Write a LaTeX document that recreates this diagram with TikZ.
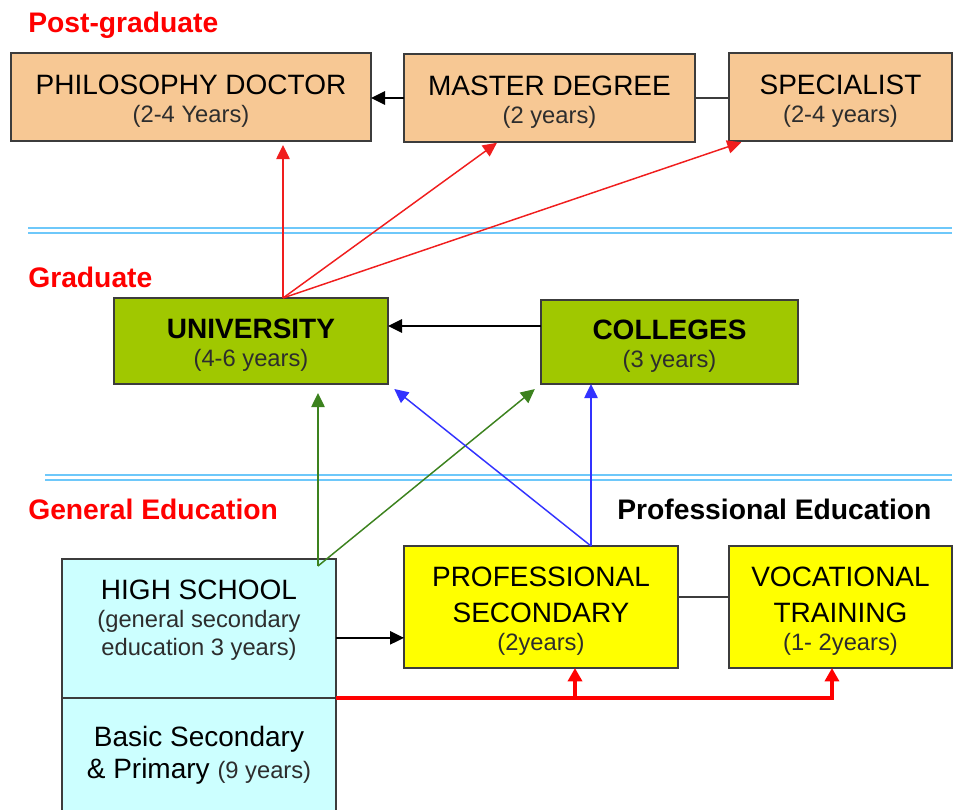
\documentclass[tikz,border=0pt]{standalone}
\usepackage{fontspec}
\setmainfont{Liberation Sans}
\usetikzlibrary{arrows.meta}

\definecolor{peach}{RGB}{247,200,148}
\definecolor{leaf}{RGB}{160,200,0}
\definecolor{lemon}{RGB}{255,255,0}
\definecolor{ice}{RGB}{204,255,255}
\definecolor{edgegray}{RGB}{60,60,60}
\definecolor{subgray}{RGB}{45,45,45}
\definecolor{sky}{RGB}{110,200,250}
\definecolor{arrred}{RGB}{240,30,30}
\definecolor{arrblue}{RGB}{50,50,255}
\definecolor{arrgreen}{RGB}{60,130,30}

\newcommand{\mainsz}{\fontsize{21}{21}\selectfont}
\newcommand{\subsz}{\fontsize{17.8}{20}\selectfont\color{subgray}}
\newcommand{\topstrut}{\rule{0pt}{21pt}}

\tikzset{
  box/.style={draw=edgegray, line width=1.1pt, inner sep=0pt, outer sep=0pt, align=center, font=\mainsz},
  pgbox/.style={box, fill=peach, minimum height=66pt},
  grbox/.style={box, fill=leaf},
  yebox/.style={box, fill=lemon, minimum height=91.5pt},
  icebox/.style={box, fill=ice, minimum width=205.5pt},
  lvl/.style={anchor=base west, inner sep=0pt, font=\bfseries\fontsize{21.2}{24}\selectfont, text=red},
  tip/.style={-{Triangle[length=10.5pt,width=10pt]}},
  blk/.style={tip, line width=1.2pt, draw=black},
  plain/.style={line width=1.1pt, draw=edgegray},
  redarr/.style={tip, line width=1.1pt, draw=arrred, fill=arrred},
  grnarr/.style={tip, line width=1.1pt, draw=arrgreen},
  bluarr/.style={tip, line width=1.1pt, draw=arrblue},
  thickred/.style={-{Triangle[length=10pt,width=10.5pt]}, line width=3pt, draw=red},
  sepline/.style={line width=1.6pt, draw=sky}
}

\begin{document}
\begin{tikzpicture}[x=0.75pt,y=0.75pt,yscale=-1]
        \useasboundingbox (0,0) rectangle (960,810);
        \clip (0,0) rectangle (960,810);

        %Separators
        \draw [sepline] (28,228) -- (952,228) ;
        \draw [sepline] (28,233) -- (952,233) ;
        \draw [sepline] (45,475) -- (952,475) ;
        \draw [sepline] (45,480) -- (952,480) ;

        % Level labels
        \node [lvl] (pglab) at (28,32) {Post-graduate};
        \node [lvl] (grlab) at (28,287) {Graduate};
        \node [lvl] (gelab) at (28,519) {General Education};
        \node [lvl, text=black] (prlab) at (617,519) {Professional Education};

        % Post-graduate boxes
        \node [pgbox, minimum width=270pt] (phd) at (191,97) {\topstrut PHILOSOPHY DOCTOR\\{\subsz (2-4 Years)}};
        \node [pgbox, minimum width=218.25pt] (master) at (549.5,98) {\topstrut MASTER DEGREE\\{\subsz (2 years)}};
        \node [pgbox, minimum width=167.25pt] (spec) at (840.5,97) {\topstrut SPECIALIST\\{\subsz (2-4 years)}};

        % Graduate boxes
        \node [grbox, minimum width=205.5pt, minimum height=64.5pt] (univ) at (251,341) {\topstrut\textbf{UNIVERSITY}\\{\subsz (4-6 years)}};
        \node [grbox, minimum width=192.75pt, minimum height=63pt] (coll) at (669.5,342) {\topstrut\textbf{COLLEGES}\\{\subsz (3 years)}};

        % School boxes
        \node [icebox, minimum height=104.25pt] (hs) at (199,628.5) {};
        \node [icebox, minimum height=97.5pt] (basic) at (199,763) {};
        \node [anchor=north, inner sep=0pt, align=center, font=\mainsz] (hstext) at (199,580) {HIGH SCHOOL\\{\subsz (general secondary}\\{\subsz education 3 years)}};
        \node [anchor=north, inner sep=0pt, align=center, font=\mainsz] (bstext) at (199,726) {Basic Secondary\\[3pt]\& Primary {\subsz (9 years)}};

        % Professional boxes
        \node [yebox, minimum width=205.5pt] (ps) at (541,607) {\topstrut PROFESSIONAL\\[6pt]SECONDARY\\{\subsz (2years)}};
        \node [yebox, minimum width=167.25pt] (vt) at (840.5,607) {\topstrut VOCATIONAL\\[6pt]TRAINING\\{\subsz (1- 2years)}};

        % Helper points
        \coordinate (ut) at ([xshift=24pt]univ.north);
        \coordinate (gt) at ([xshift=89.25pt,yshift=5.25pt]hs.north);
        \coordinate (bt) at ([xshift=37.5pt]ps.north);
        \coordinate (cw) at ([yshift=-12pt]coll.west);
        \coordinate (hse) at ([yshift=7pt]hs.east);
        \coordinate (pse) at ([yshift=-7.5pt]ps.east);
        \coordinate (pb) at ([xshift=25.5pt]ps.south);

        %Straight Lines
        \draw [blk] (master.west) -- (master.west -| phd.east) ;
        \draw [plain] (master.east) -- (master.east -| spec.west) ;
        \draw [blk] (cw) -- (cw -| univ.east) ;
        \draw [blk] (hse) -- (hse -| ps.west) ;
        \draw [plain] (pse) -- (pse -| vt.west) ;

        % Red arrows
        \draw [redarr, shorten >=3pt] (ut) -- (ut |- phd.south) ;
        \draw [redarr, shorten >=1pt] (ut) -- ([xshift=-38.6pt]master.south) ;
        \draw [redarr, shorten >=3pt] (ut) -- ([xshift=-71.6pt]spec.south) ;

        % Green arrows
        \draw [grnarr, shorten >=6.75pt] (gt) -- (gt |- univ.south) ;
        \draw [grnarr, shorten >=6pt] (gt) -- (coll.south west) ;

        % Blue arrows
        \draw [bluarr] (bt) -- (bt |- coll.south) ;
        \draw [bluarr, shorten >=6pt] (bt) -- (univ.south east) ;

        % Thick red
        \draw [thickred] (basic.north east) -| ([xshift=-6.4pt]vt.south) ;
        \draw [thickred] (pb |- basic.north east) -- (pb) ;

\end{tikzpicture}
\end{document}
